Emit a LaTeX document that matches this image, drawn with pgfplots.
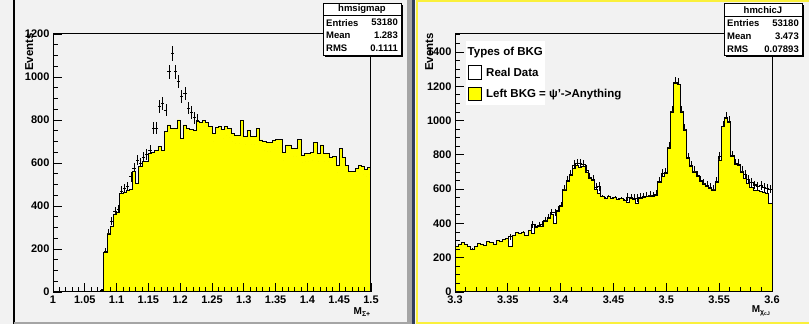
\documentclass[border=0pt]{standalone}
\usepackage{pgfplots}
\pgfplotsset{compat=1.18}
\usepackage{pgfplotstable}
\usepackage{fontspec}
\setmainfont{Liberation Sans}

\definecolor{padgray}{RGB}{242,242,242}
\definecolor{bordergray}{RGB}{165,165,165}
\definecolor{seldark}{RGB}{50,62,90}
\definecolor{histyellow}{RGB}{255,255,0}
\definecolor{padyellow}{RGB}{250,240,60}

% M(Sigma+) : bin low edge, left-sideband background, real data (bin width 0.005)
\pgfplotstableread{
x b d
1.075 8 10
1.080 185 190
1.085 270 275
1.090 307 330
1.095 363 375
1.100 372 385
1.105 459 470
1.110 462 480
1.115 474 490
1.120 478 536
1.125 560 575
1.130 505 614
1.135 583 600
1.140 606 625
1.145 606 640
1.150 645 660
1.155 650 761
1.160 660 761
1.165 679 862
1.170 660 878
1.175 746 847
1.180 777 1025
1.185 761 1110
1.190 761 1025
1.195 800 978
1.200 715 908
1.205 777 924
1.210 761 855
1.215 755 835
1.220 753 810
1.225 793 800
1.230 787 760
1.235 797 770
1.240 790 760
1.245 769 735
1.250 739 700
1.255 765 725
1.260 769 730
1.265 755 715
1.270 768 730
1.275 760 720
1.280 739 700
1.285 730 690
1.290 730 690
1.295 797 760
1.300 722 685
1.305 753 715
1.310 725 685
1.315 722 685
1.320 761 720
1.325 707 670
1.330 700 660
1.335 696 655
1.340 696 655
1.345 704 665
1.350 711 670
1.355 711 670
1.360 648 610
1.365 684 645
1.370 684 645
1.375 668 630
1.380 668 630
1.385 711 670
1.390 637 600
1.395 645 605
1.400 645 605
1.405 651 610
1.410 695 655
1.415 645 605
1.420 684 645
1.425 645 605
1.430 645 605
1.435 626 590
1.440 630 590
1.445 591 555
1.450 668 630
1.455 626 590
1.460 590 555
1.465 560 525
1.470 562 525
1.475 575 540
1.480 587 550
1.485 583 545
1.490 570 535
1.495 580 545
1.500 580 545
}\sigmatab

% M(chi_cJ) : bin low edge, left-sideband background, real data (bin width 0.003)
\pgfplotstableread{
x b d
3.300 265 247
3.303 280 262
3.306 290 272
3.309 275 257
3.312 265 247
3.315 250 240
3.318 268 250
3.321 285 267
3.324 280 262
3.327 270 252
3.330 295 277
3.333 290 272
3.336 280 262
3.339 300 282
3.342 295 277
3.345 305 287
3.348 310 292
3.351 265 322
3.354 330 315
3.357 345 330
3.360 340 325
3.363 350 335
3.366 330 315
3.369 360 345
3.372 340 395
3.375 375 380
3.378 380 386
3.381 385 392
3.384 410 415
3.387 430 436
3.390 450 462
3.393 400 462
3.396 470 478
3.399 500 505
3.402 595 600
3.405 643 650
3.408 680 688
3.411 720 740
3.414 740 748
3.417 725 750
3.420 735 742
3.423 700 712
3.426 660 668
3.429 650 655
3.432 600 610
3.435 577 615
3.438 555 540
3.441 548 533
3.444 560 545
3.447 545 530
3.450 550 535
3.453 540 525
3.456 545 530
3.459 535 520
3.462 520 552
3.465 545 550
3.468 540 546
3.471 515 548
3.474 545 552
3.477 550 556
3.480 555 560
3.483 560 565
3.486 555 562
3.489 565 570
3.492 640 645
3.495 672 690
3.498 690 696
3.501 840 845
3.504 1050 1055
3.507 1215 1220
3.510 1210 1212
3.513 1050 1055
3.516 945 950
3.519 781 785
3.522 731 736
3.525 700 706
3.528 672 680
3.531 643 650
3.534 630 636
3.537 614 620
3.540 605 612
3.543 595 600
3.546 640 646
3.549 770 790
3.552 965 968
3.555 1013 1018
3.558 990 995
3.561 789 795
3.564 745 750
3.567 740 746
3.570 700 706
3.573 663 685
3.576 633 655
3.579 610 640
3.582 595 625
3.585 590 615
3.588 585 620
3.591 580 610
3.594 577 605
3.597 518 600
3.600 518 600
}\chitab

\pgfplotsset{
  roothist/.style={
    scale only axis,
    height=258pt,
    ymin=0,
    axis on top,
    clip=true,
    axis background/.style={fill=padgray},
    axis line style={black, line width=1pt},
    tick align=inside,
    xtick pos=bottom,
    ytick pos=left,
    major tick length=9pt,
    minor tick length=4.5pt,
    tick style={black, line width=0.8pt},
    scaled ticks=false,
    /pgf/number format/assume math mode=true,
    /pgf/number format/1000 sep={},
    tick label style={font=\bfseries\fontsize{11}{13}\selectfont},
    ytick distance=200,
    minor y tick num=3,
    minor x tick num=4,
  },
  datacross/.style={
    only marks, mark=*, mark size=0pt, black,
    error bars/x dir=both,
    error bars/y dir=both,
    error bars/y explicit,
    error bars/error mark=none,
    error bars/error bar style={black, line width=0.7pt},
  },
  bkghist/.style={const plot, fill=histyellow, draw=black, line width=0.8pt},
}

\begin{document}
\begin{tikzpicture}[x=1pt, y=1pt]
  % canvas
  \fill[padgray] (0,0) rectangle (809,324);
  \fill[black] (13.3,0) rectangle (14.6,324);
  \fill[bordergray] (14,0) rectangle (408,1.6);
  \fill[bordergray] (407,0) rectangle (412,324);
  \fill[seldark] (412,0) rectangle (415,324);
  \fill[padyellow] (415.5,0) rectangle (417.5,324);
  \fill[padyellow] (415.5,322) rectangle (809,323.6);
  \fill[padyellow] (415.5,0) rectangle (809,1.6);

  % left pad: M(Sigma+)
  \begin{axis}[roothist,
      at={(53pt,32pt)}, anchor=south west,
      width=318pt,
      xmin=1, xmax=1.5, ymax=1200,
      xtick distance=0.05,
    ]
    \addplot[datacross, error bars/x fixed=0.0025]
      table[x expr=\thisrow{x}+0.0025, y=d, y error expr={sqrt(\thisrow{d})},
            skip coords between index={85}{86}] {\sigmatab};
    \addplot[bkghist] table[x=x, y=b] {\sigmatab} \closedcycle;
  \end{axis}

  % right pad: M(chi_cJ)
  \begin{axis}[roothist,
      at={(455pt,32pt)}, anchor=south west,
      width=317pt,
      xmin=3.3, xmax=3.6, ymax=1505,
      xtick distance=0.05,
    ]
    \addplot[const plot, fill=white, draw=black, line width=0.8pt]
      table[x=x, y=d] {\chitab} \closedcycle;
    \addplot[datacross, error bars/x fixed=0.0015]
      table[x expr=\thisrow{x}+0.0015, y=d, y error expr={sqrt(\thisrow{d})},
            skip coords between index={100}{101}] {\chitab};
    \addplot[bkghist] table[x=x, y=b] {\chitab} \closedcycle;
  \end{axis}

  % axis titles
  \node[rotate=90, anchor=base east, inner sep=0pt,
        font=\bfseries\fontsize{11.5}{13}\selectfont] at (33,291) {Events};
  \node[rotate=90, anchor=base east, inner sep=0pt,
        font=\bfseries\fontsize{11.5}{13}\selectfont] at (433,291) {Events};
  \node[anchor=base east, inner sep=0pt,
        font=\bfseries\fontsize{10}{12}\selectfont] at (371,9)
        {M\textsubscript{Σ+}};
  \node[anchor=base east, inner sep=0pt,
        font=\bfseries\fontsize{10}{12}\selectfont] at (771,11)
        {M\textsubscript{χ\textsubscript{cJ}}};

  % statistics boxes
  \begin{scope}[font=\bfseries\fontsize{9.5}{11}\selectfont]
    \fill[black] (325,267) rectangle (403,319);
    \filldraw[fill=white, draw=black, line width=0.8pt] (323,269) rectangle (401,321);
    \draw[black, line width=0.8pt] (323,308.3) -- (401,308.3);
    \node[anchor=center, inner sep=0pt] at (362,314.5) {hmsigmap};
    \node[anchor=west, inner sep=0pt] at (326,301.3) {Entries};
    \node[anchor=east, inner sep=0pt] at (398,301.3) {53180};
    \node[anchor=west, inner sep=0pt] at (326,289) {Mean};
    \node[anchor=east, inner sep=0pt] at (398,289) {1.283};
    \node[anchor=west, inner sep=0pt] at (326,275.7) {RMS};
    \node[anchor=east, inner sep=0pt] at (398,275.7) {0.1111};

    \fill[black] (726,267) rectangle (804,319);
    \filldraw[fill=white, draw=black, line width=0.8pt] (724,269) rectangle (802,321);
    \draw[black, line width=0.8pt] (724,307.5) -- (802,307.5);
    \node[anchor=center, inner sep=0pt] at (763,314) {hmchicJ};
    \node[anchor=west, inner sep=0pt] at (727,300.5) {Entries};
    \node[anchor=east, inner sep=0pt] at (799,300.5) {53180};
    \node[anchor=west, inner sep=0pt] at (727,288) {Mean};
    \node[anchor=east, inner sep=0pt] at (799,288) {3.473};
    \node[anchor=west, inner sep=0pt] at (727,275) {RMS};
    \node[anchor=east, inner sep=0pt] at (799,275) {0.07893};
  \end{scope}

  % legend
  \begin{scope}[font=\bfseries\fontsize{11.5}{13}\selectfont]
    \fill[white] (466,219) rectangle (545,283);
    \node[anchor=base west, inner sep=0pt] at (467.5,268) {Types of BKG};
    \filldraw[fill=white, draw=black, line width=1pt] (468,244) rectangle (481.5,258);
    \node[anchor=base west, inner sep=0pt] at (486,247) {Real Data};
    \filldraw[fill=histyellow, draw=black, line width=1pt] (468,223) rectangle (481.5,236.5);
    \node[anchor=base west, inner sep=0pt] at (486,226) {Left BKG = ψ'->Anything};
  \end{scope}

  % page size is the canvas
  \pgfresetboundingbox
  \path[use as bounding box] (0,0) rectangle (809,324);
\end{tikzpicture}
\end{document}
